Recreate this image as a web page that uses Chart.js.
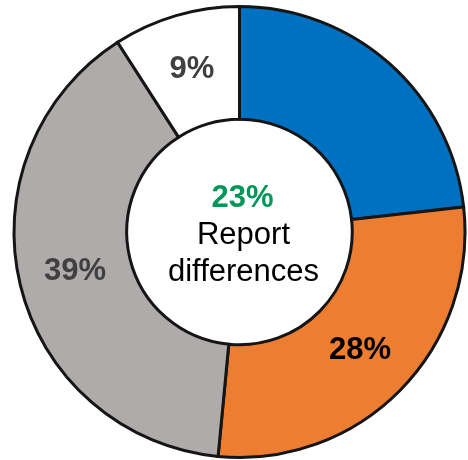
<!DOCTYPE html>
<html>
<head>
<meta charset="utf-8">
<script src="https://cdn.jsdelivr.net/npm/chart.js@4"></script>
<style>
  html, body { margin: 0; padding: 0; background: #fff; }
  #wrap { width: 468px; height: 460px; }
</style>
</head>
<body>
<div id="wrap"><canvas id="chart" width="468" height="460"></canvas></div>
<script>
// Share of respondents per answer, clockwise from 12 o'clock
const categories = ['Report differences', 'Other A', 'Other B', 'Other C'];
const shares = [23, 28, 39, 9];
const sliceColors = ['#0070C0', '#ED7D31', '#AFABAB', '#FFFFFF'];
// slice labels (the blue slice is described in the centre instead)
const sliceLabels = [null, '28%', '39%', '9%'];
const labelColors = [null, '#000000', '#404040', '#404040'];
const centerValue = '23%';
const centerLines = ['Report', 'differences'];

const FONT = '"Liberation Sans", Arial, sans-serif';

// Percent labels at the middle of each ring segment
const sliceLabelPlugin = {
  id: 'sliceLabels',
  afterDatasetsDraw(chart) {
    const ctx = chart.ctx;
    const meta = chart.getDatasetMeta(0);
    ctx.save();
    ctx.font = 'bold 31px ' + FONT;
    ctx.textAlign = 'center';
    ctx.textBaseline = 'middle';
    meta.data.forEach((arc, i) => {
      if (!sliceLabels[i]) return;
      const pos = arc.tooltipPosition();
      ctx.fillStyle = labelColors[i];
      ctx.fillText(sliceLabels[i], pos.x, pos.y);
    });
    ctx.restore();
  }
};

// Text in the hole of the doughnut
const centerTextPlugin = {
  id: 'centerText',
  afterDatasetsDraw(chart) {
    const ctx = chart.ctx;
    const arc = chart.getDatasetMeta(0).data[0];
    const cx = arc.x, cy = arc.y;
    ctx.save();
    ctx.textAlign = 'center';
    ctx.textBaseline = 'middle';
    ctx.fillStyle = '#00965A';
    ctx.font = 'bold 31px ' + FONT;
    ctx.fillText(centerValue, cx + 3, cy - 34);
    ctx.fillStyle = '#000000';
    ctx.font = '31px ' + FONT;
    ctx.fillText(centerLines[0], cx + 4, cy + 3);
    ctx.fillText(centerLines[1], cx + 4, cy + 40);
    ctx.restore();
  }
};

new Chart(document.getElementById('chart').getContext('2d'), {
  type: 'doughnut',
  data: {
    labels: categories,
    datasets: [{
      data: shares,
      backgroundColor: sliceColors,
      borderColor: '#151515',
      borderWidth: 3,
      borderJoinStyle: 'miter'
    }]
  },
  options: {
    responsive: false,
    animation: false,
    cutout: '50%',
    layout: { padding: { top: 5, bottom: 1, left: 11, right: 0 } },
    plugins: {
      legend: { display: false },
      tooltip: { enabled: false }
    }
  },
  plugins: [sliceLabelPlugin, centerTextPlugin]
});
</script>
</body>
</html>
